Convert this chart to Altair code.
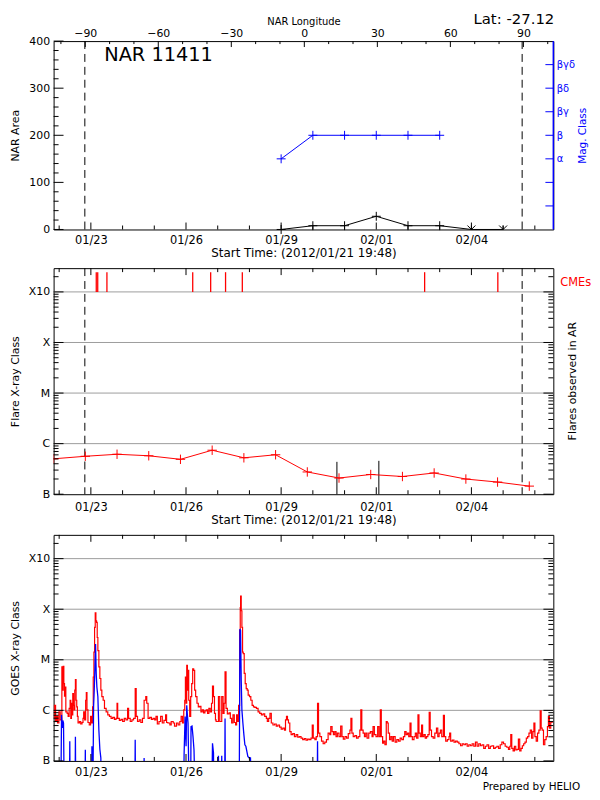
import math
import altair as alt
import pandas as pd

START = pd.Timestamp("2012-01-21 19:48:00")
W, H1, H2, H3 = 504, 190, 228, 228
FONT = "DejaVu Sans"
RED, BLUE, GRID = "#ff0000", "#0000ff", "#9c9c9c"
PLUS = "M-1,0L1,0M0,-1L0,1"
VMARK = "M-1,-1L0,0L1,-1M0,-1L0,0"

# ---------------- axis labels / ticks ----------------
date_labels = [(1, 23), (1, 26), (1, 29), (2, 1), (2, 4)]
day_ticks = ["2012-01-22", "2012-01-23", "2012-01-24", "2012-01-25", "2012-01-26", "2012-01-27",
             "2012-01-28", "2012-01-29", "2012-01-30", "2012-01-31", "2012-02-01", "2012-02-02",
             "2012-02-03", "2012-02-04", "2012-02-05", "2012-02-06"]
major_days = ["2012-01-23", "2012-01-26", "2012-01-29", "2012-02-01", "2012-02-04"]
lon_labels = [-90, -60, -30, 0, 30, 60, 90]
lon_minor = [-100, -80, -70, -50, -40, -20, -10, 10, 20, 40, 50, 70, 80, 100]
area_labels = [0, 100, 200, 300, 400]
area_minor = [20, 40, 60, 80, 120, 140, 160, 180, 220, 240, 260, 280, 320, 340, 360, 380]
mag_ticks = [1, 2, 3, 4, 5, 6, 7]
mag_names = ["", "", "α", "β", "βγ", "βδ", "βγδ"]
class_values = [-7, -6, -5, -4, -3]
class_names = ["B", "C", "M", "X", "X10"]
log_minor = [d + math.log10(k) for d in range(-7, -2) for k in range(2, 10) if d + math.log10(k) < -2.53]

# ---------------- top panel data ----------------
nar_dates = ["2012-01-29", "2012-01-30", "2012-01-31", "2012-02-01", "2012-02-02",
             "2012-02-03", "2012-02-04", "2012-02-05"]
nar_area = [0, 8, 8, 28, 8, 8, 0, 0]
nar_marker = ["+", "+", "+", "+", "+", "+", "v", "v"]
mag_dates = ["2012-01-29", "2012-01-30", "2012-01-31", "2012-02-01", "2012-02-02", "2012-02-03"]
mag_class = [3, 4, 4, 4, 4, 4]
limb_times = ["2012-01-22 19:26", "2012-02-05 14:24"]

# ---------------- middle panel data ----------------
flare_day = list(range(16))  # days after start time
flare_level = [-6.30, -6.25, -6.21, -6.24, -6.31, -6.13, -6.28, -6.22,
               -6.56, -6.68, -6.61, -6.65, -6.58, -6.70, -6.76, -6.84]
ar_flare_times = ["2012-01-30 18:13", "2012-02-01 01:57"]
ar_flare_level = [-6.36, -6.34]
cme_times = ["2012-01-23 04:05", "2012-01-23 05:11", "2012-01-23 12:09", "2012-01-26 05:05",
             "2012-01-26 18:40", "2012-01-27 05:56", "2012-01-27 18:37", "2012-02-02 12:36",
             "2012-02-04 20:00"]
cme_band = (-3.0, -2.61)

# ---------------- bottom panel data (hours after start, log10 flux) ----------------
goes_long = [
    (0, -6.16), (0.5, -5.90), (1.5, -6.22), (2.25, -6.12), (3, -6.25), (4, -6.03), (5, -6.19), (6, -6.22),
    (6.25, -5.14), (6.75, -5.60), (7.25, -5.13), (7.75, -5.47), (8.25, -5.72), (8.75, -5.54), (9.25, -6.03),
    (10.25, -6.06), (11, -6.12), (11.75, -5.96), (12.5, -5.80), (13, -6.16), (13.5, -5.86), (14, -6.09),
    (14.5, -5.67), (15, -5.90), (15.5, -5.99), (16, -5.60), (16.5, -5.39), (17, -5.80), (17.5, -5.93),
    (18, -6.12), (18.5, -6.25), (19.5, -6.22), (20.5, -6.27), (21.5, -6.24), (22.25, -6.16), (22.75, -6.03),
    (23.5, -6.19), (24.25, -5.80), (24.75, -5.65), (25.25, -5.99), (26, -6.24), (27, -6.29), (28, -6.12),
    (28.75, -6.25), (29.5, -5.93), (30, -5.34), (30.5, -4.85), (31, -4.36), (31.5, -4.07), (32, -4.23),
    (32.5, -4.26), (33, -4.56), (33.5, -4.82), (34.25, -5.14), (35, -5.37), (35.75, -5.60), (36.5, -5.73),
    (37.5, -5.80), (38.5, -5.96), (39.75, -6.03), (41, -6.09), (42.25, -6.12), (43.5, -6.16), (44.75, -6.14),
    (46, -6.18), (47.25, -6.16), (48, -5.86), (48.5, -6.16), (49.75, -6.20), (51, -6.18), (52.25, -6.22),
    (53.5, -6.16), (54.75, -6.19), (56, -5.96), (56.75, -6.16), (58, -6.22), (59.25, -6.19), (60.5, -6.16),
    (61.75, -5.57), (62.5, -6.12), (63.5, -6.22), (64.75, -6.19), (66, -6.24), (67.25, -6.16), (68.5, -5.80),
    (69.75, -5.73), (70.5, -5.86), (71.5, -6.16), (72.75, -6.14), (74, -6.18), (75.25, -6.16), (76.5, -6.19),
    (77.5, -6.12), (78.5, -6.27), (79.75, -6.22), (81, -6.12), (82.25, -6.25), (83.5, -6.20), (84.75, -6.09),
    (85.5, -6.24), (86.5, -6.25), (88, -6.29), (89, -6.22), (90.5, -6.25), (91.5, -6.31), (93, -6.25),
    (94.25, -6.29), (95.5, -6.22), (96.5, -6.12), (97.5, -6.25), (98.5, -5.99), (99.25, -5.80), (99.75, -5.34),
    (100.25, -5.86), (100.75, -5.11), (101.25, -5.60), (101.75, -5.21), (102.25, -5.80), (103, -6.12),
    (103.75, -5.73), (104.5, -5.47), (105.25, -5.18), (106, -5.21), (106.75, -5.60), (107.5, -5.73),
    (108.5, -5.86), (109.5, -5.93), (110.5, -5.92), (111.5, -6.03), (112.5, -5.99), (113.5, -6.05),
    (114.5, -6.01), (115.5, -5.99), (116.5, -6.06), (117.5, -5.96), (118.5, -6.03), (119.5, -5.86),
    (120.25, -5.52), (121, -5.73), (121.75, -6.06), (122.5, -6.19), (123, -6.22), (124.75, -5.73),
    (125.75, -6.22), (127.25, -5.73), (128.25, -6.06), (129, -5.86), (129.75, -5.24), (130.5, -5.96),
    (131.5, -6.07), (132.75, -6.05), (133.75, -6.16), (134.75, -6.25), (135.75, -6.09), (136.75, -6.24),
    (137.75, -6.29), (138.5, -6.09), (139.25, -6.22), (140, -5.90), (140.75, -4.42), (141.25, -3.97),
    (141.5, -3.74), (142, -4.03), (142.5, -4.36), (143, -4.85), (143.5, -4.88), (144.25, -5.27), (145, -5.47),
    (145.75, -5.57), (146.5, -5.60), (147.25, -5.70), (148.25, -5.73), (149.25, -5.80), (150.25, -5.90),
    (151.25, -5.93), (152.25, -5.94), (153.5, -5.96), (154.75, -6.03), (156, -6.06), (157.25, -6.09),
    (158.5, -6.07), (159.75, -6.12), (161, -6.16), (161.75, -6.22), (162.75, -6.16), (163.75, -6.06),
    (164.75, -6.25), (166, -6.29), (167.25, -6.27), (168.5, -6.31), (169.75, -6.29), (171, -6.33),
    (172.25, -6.37), (173.5, -6.35), (174.75, -6.39), (175.5, -6.19), (176.25, -6.12), (177, -6.19),
    (177.75, -6.25), (178.75, -6.42), (179.75, -6.48), (181, -6.46), (182.25, -6.52), (183.5, -6.48),
    (184.75, -6.53), (186, -6.52), (187.25, -6.55), (188.5, -6.58), (189.75, -6.56), (191, -6.59),
    (192.25, -6.57), (193.5, -6.58), (194.75, -6.55), (195.75, -6.29), (196.5, -6.55), (197.75, -6.58),
    (198.75, -6.52), (199.75, -5.86), (200.5, -6.45), (201.5, -6.52), (202.75, -6.61), (204, -6.66),
    (205.25, -6.63), (206.5, -6.58), (207.75, -6.45), (209, -6.48), (209.75, -6.32), (210.75, -6.42),
    (211.75, -6.48), (212.75, -6.42), (213.75, -6.52), (214.75, -6.45), (216, -6.52), (217.25, -6.31),
    (218.25, -6.52), (219.25, -6.57), (220.5, -6.52), (221.75, -6.55), (223, -6.46), (224.25, -6.39),
    (225, -6.16), (225.75, -6.45), (226.75, -6.52), (228, -6.50), (229.25, -6.55), (230.5, -6.52),
    (231.75, -6.39), (232.5, -5.99), (233.25, -6.39), (234.25, -6.45), (235.25, -6.52), (236.25, -6.45),
    (237.25, -6.55), (238.5, -6.45), (239.75, -6.42), (241, -6.52), (241.75, -6.32), (242.75, -6.48),
    (244, -6.52), (245.25, -6.32), (246.25, -6.52), (247.25, -5.99), (248, -6.52), (249, -6.65),
    (249.75, -6.61), (250.75, -6.68), (251.75, -6.22), (252.5, -6.25), (253.25, -6.45), (254.25, -6.58),
    (255.25, -6.52), (256.25, -6.61), (257.25, -6.52), (258.5, -6.63), (259.75, -6.58), (261, -6.61),
    (262.25, -6.55), (263.5, -6.58), (264.75, -6.52), (265.75, -6.42), (266.75, -6.48), (267.75, -6.45),
    (268.75, -6.52), (269.75, -6.25), (270.5, -6.52), (271.5, -6.58), (272.75, -6.52), (273.75, -6.45),
    (274.75, -6.55), (275.75, -6.09), (276.5, -6.45), (277.5, -6.52), (278.5, -6.29), (279.25, -6.52),
    (280.25, -6.48), (281.25, -6.55), (282.25, -6.52), (283.25, -6.48), (284.25, -6.04), (285, -6.39),
    (286, -6.52), (287.25, -6.55), (288.5, -6.45), (289.75, -6.35), (290.75, -6.52), (291.75, -6.45),
    (292.75, -6.39), (293.75, -6.52), (295, -6.10), (295.75, -6.52), (296.75, -6.61), (298, -6.58),
    (299.25, -6.52), (299.75, -6.45), (300.5, -6.61), (301.75, -6.59), (303, -6.63), (304.25, -6.61),
    (305.5, -6.63), (306.75, -6.66), (308, -6.70), (309.25, -6.66), (310.5, -6.68), (311.75, -6.66),
    (313, -6.71), (314.25, -6.68), (315.5, -6.70), (316.75, -6.66), (318, -6.71), (319.25, -6.63),
    (320.5, -6.71), (321.75, -6.66), (323, -6.70), (324.25, -6.68), (325.5, -6.75), (326.75, -6.71),
    (328, -6.68), (329.25, -6.75), (330.5, -6.71), (331.75, -6.70), (333, -6.75), (334.25, -6.73),
    (335.5, -6.71), (336.75, -6.75), (338, -6.68), (339.25, -6.63), (340.5, -6.66), (341.75, -6.71),
    (343, -6.73), (344.25, -6.77), (345.25, -6.71), (346, -6.48), (346.75, -6.75), (347.75, -6.80),
    (348.75, -6.71), (349.75, -6.78), (350.75, -6.77), (351.75, -6.57), (352.75, -6.80), (353.75, -6.75),
    (354.75, -6.70), (355.75, -6.66), (356.75, -6.63), (357.75, -6.55), (358.75, -6.52), (359.75, -6.45),
    (360.75, -6.39), (361.75, -6.55), (362.75, -6.42), (363.5, -6.25), (364.25, -6.52), (365.25, -6.61),
    (366.25, -6.45), (367.25, -6.39), (368.25, -6.01), (369, -6.35), (369.75, -6.39), (370.75, -6.68),
    (371.75, -6.58), (372.75, -6.52), (373.75, -6.32), (374.5, -6.12), (375.25, -6.35), (376.25, -6.22),
    (377.25, -6.25),
]
goes_short = [
    (0, -7.6), (5.5, -7.6), (6, -6.09), (6.5, -6.35), (7, -6.20), (7.5, -6.25), (8, -7.6),
    (12, -7.6), (12.25, -6.61), (12.5, -7.6), (16.25, -7.6), (16.5, -6.52), (16.75, -7.6),
    (23.75, -7.6), (24, -6.78), (24.25, -7.6), (28.75, -7.6), (29, -6.71), (29.25, -7.6),
    (29.75, -7.6), (30.25, -5.93), (30.75, -5.60), (31.25, -5.18), (31.75, -4.69), (32.25, -5.27),
    (32.75, -5.54), (33.5, -5.73), (34.25, -6.39), (35, -6.77), (35.75, -6.94), (36, -7.6),
    (61.5, -7.6), (61.75, -6.58), (62, -7.6), (68.25, -7.6), (68.5, -6.94), (68.75, -7.6),
    (98.5, -7.6), (98.75, -6.88), (99.5, -6.12), (100.25, -6.71), (100.75, -5.90), (101.25, -6.09),
    (101.75, -6.25), (102.5, -7.6), (103.75, -7.6), (104, -6.32), (104.75, -6.31), (105.5, -6.52),
    (106.25, -6.78), (107, -7.6), (119.75, -7.6), (120.25, -6.65), (121, -6.84), (121.25, -7.6),
    (123.5, -7.6), (124.75, -6.90), (125, -7.6), (127, -7.6), (127.25, -6.90), (127.5, -7.6),
    (129.5, -7.6), (129.75, -6.16), (130, -7.6), (140.5, -7.6), (141, -4.39), (141.5, -4.42),
    (142, -5.41), (142.5, -5.99), (143.25, -6.25), (144, -6.48), (144.75, -6.68), (145.5, -6.71),
    (146.25, -6.81), (147, -6.91), (148, -6.94), (149, -6.94), (149.75, -7.6),
    (199.5, -7.6), (199.75, -6.61), (200, -7.6), (377, -7.6),
]

# ---------------- frames ----------------
def hours_to_t(h):
    return START + pd.to_timedelta(h, unit="h")

tick_df = pd.DataFrame({"t": pd.to_datetime(day_ticks)})
tick_df["major"] = tick_df["t"].isin(pd.to_datetime(major_days))
tick_major_df = tick_df[tick_df.major][["t"]]
tick_minor_df = tick_df[~tick_df.major][["t"]]

nar_df = pd.DataFrame({"t": pd.to_datetime(nar_dates), "v": nar_area, "marker": nar_marker})
mag_df = pd.DataFrame({"t": pd.to_datetime(mag_dates), "v": mag_class})
limb_df = pd.DataFrame({"t": pd.to_datetime(limb_times)})
flare_df = pd.DataFrame({"t": [START + pd.Timedelta(days=d) for d in flare_day], "v": flare_level})
arf_df = pd.DataFrame({"t": pd.to_datetime(ar_flare_times), "v": ar_flare_level, "lo": -7.0})
cme_df = pd.DataFrame({"t": pd.to_datetime(cme_times), "lo": cme_band[0], "hi": cme_band[1]})
red_df = pd.DataFrame({"t": [hours_to_t(h) for h, _ in goes_long], "v": [v for _, v in goes_long]})
blue_df = pd.DataFrame({"t": [hours_to_t(h) for h, _ in goes_short], "v": [v for _, v in goes_short]})
grid_df = pd.DataFrame({"v": class_values[1:]})
cls_major_df = pd.DataFrame({"v": class_values})
cls_minor_df = pd.DataFrame({"v": log_minor})
area_major_df = pd.DataFrame({"v": area_labels})
area_minor_df = pd.DataFrame({"v": area_minor})
mag_tick_df = pd.DataFrame({"v": mag_ticks})
lon_major_df = pd.DataFrame({"lon": lon_labels})
lon_minor_df = pd.DataFrame({"lon": lon_minor})
one = pd.DataFrame({"a": [0]})

# ---------------- scales / axes ----------------
T_SCALE = alt.Scale(domain=[alt.DateTime(year=2012, month=1, date=21, hours=19, minutes=48),
                            alt.DateTime(year=2012, month=2, date=6, hours=14)])


def t_axis(title, pad, tpad=2):
    kw = dict(values=[alt.DateTime(year=2012, month=m, date=d) for m, d in date_labels],
              format="%m/%d", ticks=False, domain=False, grid=False, labelPadding=pad,
              labelFontSize=11.5, labelOverlap=False, labelFlush=False)
    if title:
        kw.update(title=title, titlePadding=tpad, titleFontSize=12)
    else:
        kw.update(title=None)
    return alt.Axis(**kw)


def label_expr(values, names):
    return " : ".join(f"datum.value == {v} ? '{n}'" for v, n in zip(values, names)) + " : ''"


def tx(axis):
    return alt.X("t:T", scale=T_SCALE, axis=axis)


def xtick_layers(axis, h, top=True):
    out = []
    for df, ln in ((tick_major_df, 7), (tick_minor_df, 4)):
        out.append(alt.Chart(df).mark_rule(color="black").encode(x=tx(axis), y=alt.value(h), y2=alt.value(h - ln)))
        if top:
            out.append(alt.Chart(df).mark_rule(color="black").encode(x=tx(axis), y=alt.value(0), y2=alt.value(ln)))
    return out


def ytick_layers(yenc, major_df, minor_df, sides=("left", "right"), maj=10, mnr=5):
    out = []
    for df, ln in ((major_df, maj), (minor_df, mnr)):
        for side in sides:
            x0, x1 = (0, ln) if side == "left" else (W - ln, W)
            out.append(alt.Chart(df).mark_rule(color="black").encode(y=yenc, x=alt.value(x0), x2=alt.value(x1)))
    return out


def text_layer(txt, x, y, size, color="black", align="left", baseline="alphabetic", angle=0):
    kw = dict(align=align, baseline=baseline, fontSize=size, color=color)
    if angle:
        kw["angle"] = angle
    return alt.Chart(pd.DataFrame({"label": [txt]})).mark_text(**kw).encode(
        x=alt.value(x), y=alt.value(y), text="label:N")


# ---------------- top panel ----------------
AX1 = t_axis("Start Time: (2012/01/21 19:48)", 5, tpad=2)
ay = alt.Y("v:Q", scale=alt.Scale(domain=[0, 400]),
           axis=alt.Axis(values=area_labels, ticks=False, domain=False, grid=False, labelPadding=4,
                         labelFontSize=11, title="NAR Area", titlePadding=8, titleFontSize=11))
ym = alt.Y("v:Q", scale=alt.Scale(domain=[0, 8]),
           axis=alt.Axis(orient="right", values=mag_ticks, labelExpr=label_expr(mag_ticks, mag_names),
                         ticks=False, domain=False, grid=False, labelColor=BLUE, labelPadding=3,
                         labelFontSize=10, title="Mag. Class", titleColor=BLUE, titleAngle=270,
                         titlePadding=13, titleFontSize=10.5))
lx_major = alt.X("lon:Q", scale=alt.Scale(domain=[-103, 102.3]),
                 axis=alt.Axis(orient="top", values=lon_labels, ticks=False, domain=False, grid=False,
                               labelPadding=3, labelFontSize=11, labelFlush=False, labelOverlap=False,
                               title="NAR Longitude", titlePadding=1, titleFontSize=10))

top_main = alt.layer(
    alt.Chart(limb_df).mark_rule(color="black", strokeDash=[8, 5]).encode(x=tx(AX1), y=alt.value(0), y2=alt.value(H1)),
    *xtick_layers(AX1, H1, top=False),
    *ytick_layers(ay, area_major_df, area_minor_df, sides=("left",)),
    alt.Chart(nar_df).mark_line(color="black", strokeWidth=1).encode(x=tx(AX1), y=ay),
    alt.Chart(nar_df[nar_df.marker == "+"]).mark_point(shape=PLUS, size=81, filled=False, color="black",
                                                       strokeWidth=1, opacity=1).encode(x=tx(AX1), y=ay),
    alt.Chart(nar_df[nar_df.marker == "v"]).mark_point(shape=VMARK, size=64, filled=False, color="black",
                                                       strokeWidth=1, opacity=1).encode(x=tx(AX1), y=ay),
    text_layer("NAR 11411", 51, 20, 19.5),
    text_layer("Lat: -27.12", W + 1, -17, 15, align="right"),
)
top_mag = alt.layer(
    alt.Chart(mag_tick_df).mark_rule(color=BLUE).encode(y=ym, x=alt.value(W - 8), x2=alt.value(W)),
    alt.Chart(one).mark_rule(color=BLUE, strokeWidth=1.5).encode(x=alt.value(W), y=alt.value(0), y2=alt.value(H1)),
    alt.Chart(mag_df).mark_line(color=BLUE, strokeWidth=1).encode(x=tx(AX1), y=ym),
    alt.Chart(mag_df).mark_point(shape=PLUS, size=81, filled=False, color=BLUE, strokeWidth=1,
                                 opacity=1).encode(x=tx(AX1), y=ym),
)
top_lon = alt.layer(
    alt.Chart(lon_major_df).mark_rule(color="black").encode(x=lx_major, y=alt.value(0), y2=alt.value(6)),
    alt.Chart(lon_minor_df).mark_rule(color="black").encode(x=lx_major, y=alt.value(0), y2=alt.value(3)),
)
top = alt.layer(
    alt.layer(top_main, top_mag).resolve_scale(y="independent"),
    top_lon,
).resolve_scale(x="independent").properties(width=W, height=H1)

# ---------------- middle panel ----------------
AX2 = t_axis("Start Time: (2012/01/21 19:48)", 7)
YF = alt.Scale(domain=[-7, -2.53])


def cls_y(field, title):
    return alt.Y(f"{field}:Q", scale=YF,
                 axis=alt.Axis(values=class_values, labelExpr=label_expr(class_values, class_names),
                               ticks=False, domain=False, grid=False, labelPadding=4, labelFontSize=11,
                               title=title, titlePadding=8, titleFontSize=11))


y2 = cls_y("v", "Flare X-ray Class")
y2lo = cls_y("lo", "Flare X-ray Class")
mid = alt.layer(
    alt.Chart(grid_df).mark_rule(color=GRID).encode(y=y2, x=alt.value(0), x2=alt.value(W)),
    alt.Chart(limb_df).mark_rule(color="black", strokeDash=[8, 5]).encode(x=tx(AX2), y=alt.value(0), y2=alt.value(H2)),
    alt.Chart(cme_df).mark_rule(color=RED, strokeWidth=1.3).encode(x=tx(AX2), y=y2lo, y2="hi:Q"),
    alt.Chart(arf_df).mark_rule(color="black").encode(x=tx(AX2), y=y2lo, y2="v:Q"),
    alt.Chart(flare_df).mark_line(color=RED, strokeWidth=1, clip=True).encode(x=tx(AX2), y=y2),
    alt.Chart(flare_df).mark_point(shape=PLUS, size=90, filled=False, color=RED, strokeWidth=1,
                                   opacity=1, clip=True).encode(x=tx(AX2), y=y2),
    *ytick_layers(y2, cls_major_df, cls_minor_df),
    *xtick_layers(AX2, H2),
    text_layer("CMEs", W + 7, 15, 11.5, color=RED, baseline="middle"),
    text_layer("Flares observed in AR", W + 20, H2 / 2, 11, align="center", baseline="middle", angle=270),
).properties(width=W, height=H2)

# ---------------- bottom panel ----------------
AX3 = t_axis(None, 6)
y3 = cls_y("v", "GOES X-ray Class")
bot = alt.layer(
    alt.Chart(grid_df).mark_rule(color=GRID).encode(y=y3, x=alt.value(0), x2=alt.value(W)),
    alt.Chart(red_df).mark_line(color=RED, strokeWidth=1.2, clip=True, interpolate="step-after").encode(x=tx(AX3), y=y3),
    alt.Chart(blue_df).mark_line(color=BLUE, strokeWidth=1.3, clip=True).encode(x=tx(AX3), y=y3),
    *ytick_layers(y3, cls_major_df, cls_minor_df),
    *xtick_layers(AX3, H3),
    text_layer("Prepared by HELIO", W + 27, H3 + 26, 10.5, align="right", baseline="middle"),
).properties(width=W, height=H3)

chart = alt.vconcat(top, mid, bot, spacing=8).properties(padding=0).configure_view(
    stroke="black", strokeWidth=1
).configure_axis(
    labelFont=FONT, titleFont=FONT, titleFontWeight="normal", labelColor="black", titleColor="black"
).configure_text(font=FONT)

chart.save("out.html", embed_options={"renderer": "svg", "actions": False})
